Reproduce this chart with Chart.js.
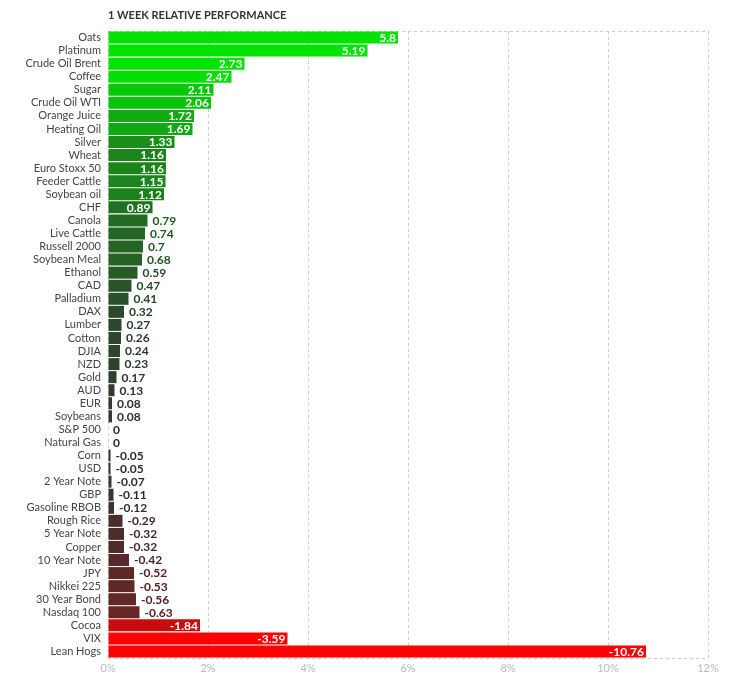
<!DOCTYPE html>
<html>
<head>
<meta charset="utf-8">
<script src="https://cdn.jsdelivr.net/npm/chart.js@4.4.1/dist/chart.umd.min.js"></script>
<style>
  html, body { margin: 0; padding: 0; background: #fff; }
  #wrap { width: 747px; height: 683px; position: relative; }
</style>
</head>
<body>
<div id="wrap"><canvas id="perfChart"></canvas></div>
<script>
// 1 week relative performance, sorted high to low
const names = [
  'Oats', 'Platinum', 'Crude Oil Brent', 'Coffee', 'Sugar', 'Crude Oil WTI',
  'Orange Juice', 'Heating Oil', 'Silver', 'Wheat', 'Euro Stoxx 50', 'Feeder Cattle',
  'Soybean oil', 'CHF', 'Canola', 'Live Cattle', 'Russell 2000', 'Soybean Meal',
  'Ethanol', 'CAD', 'Palladium', 'DAX', 'Lumber', 'Cotton', 'DJIA', 'NZD', 'Gold',
  'AUD', 'EUR', 'Soybeans', 'S&P 500', 'Natural Gas', 'Corn', 'USD', '2 Year Note',
  'GBP', 'Gasoline RBOB', 'Rough Rice', '5 Year Note', 'Copper', '10 Year Note',
  'JPY', 'Nikkei 225', '30 Year Bond', 'Nasdaq 100', 'Cocoa', 'VIX', 'Lean Hogs'
];
const changes = [
  5.8, 5.19, 2.73, 2.47, 2.11, 2.06,
  1.72, 1.69, 1.33, 1.16, 1.16, 1.15,
  1.12, 0.89, 0.79, 0.74, 0.7, 0.68,
  0.59, 0.47, 0.41, 0.32, 0.27, 0.26, 0.24, 0.23, 0.17,
  0.13, 0.08, 0.08, 0, 0, -0.05, -0.05, -0.07,
  -0.11, -0.12, -0.29, -0.32, -0.32, -0.42,
  -0.52, -0.53, -0.56, -0.63, -1.84, -3.59, -10.76
];
const xTicks = [0, 2, 4, 6, 8, 10, 12];

const FONT = 'Lato, "Noto Sans", sans-serif';

// colour fades from dark grey to green / red with size of the move
function shade(v, k) {
  const t = Math.min(Math.abs(v) / 2.5, 1);
  const base = 51;
  let r, g, b;
  if (v >= 0) {
    r = base * (1 - t); g = base + (226 - base) * t; b = r;
  } else {
    r = base + (255 - base) * t; g = base * (1 - t); b = g;
  }
  return `rgb(${Math.round(r * k)}, ${Math.round(g * k)}, ${Math.round(b * k)})`;
}

const colors = changes.map(v => shade(v, 1));
const textColors = changes.map(v => shade(v, 0.85));

// title, frame lines and value labels
const extras = {
  id: 'extras',
  beforeDatasetsDraw(chart) {
    const { ctx, chartArea } = chart;
    ctx.save();
    ctx.strokeStyle = '#cccccc';
    ctx.lineWidth = 1;
    ctx.setLineDash([3, 3]);
    ctx.beginPath();
    ctx.moveTo(chartArea.left, chartArea.top + 0.5);
    ctx.lineTo(chartArea.right, chartArea.top + 0.5);
    ctx.moveTo(chartArea.left, chartArea.bottom + 0.5);
    ctx.lineTo(chartArea.right, chartArea.bottom + 0.5);
    ctx.stroke();
    ctx.restore();
  },
  afterDatasetsDraw(chart) {
    const { ctx, chartArea } = chart;
    ctx.save();
    ctx.font = `bold 11px ${FONT}`;
    ctx.fillStyle = '#333333';
    ctx.textBaseline = 'middle';
    ctx.fillText('1 WEEK RELATIVE PERFORMANCE', chartArea.left, 15);

    const meta = chart.getDatasetMeta(0);
    ctx.font = `bold 12px ${FONT}`;
    meta.data.forEach((bar, i) => {
      const txt = String(changes[i]);
      const barW = bar.x - chartArea.left;
      // only bars wider than ~0.8% carry their label inside
      if (barW > 40) {
        ctx.fillStyle = '#ffffff';
        ctx.textAlign = 'right';
        ctx.fillText(txt, bar.x - 2, bar.y + 0.5);
      } else {
        ctx.fillStyle = textColors[i];
        ctx.textAlign = 'left';
        ctx.fillText(txt, bar.x + 5, bar.y + 0.5);
      }
    });
    ctx.restore();
  }
};

new Chart(document.getElementById('perfChart'), {
  type: 'bar',
  data: {
    labels: names,
    datasets: [{
      data: changes.map(v => Math.abs(v)),
      backgroundColor: colors,
      borderWidth: 0,
      categoryPercentage: 1,
      barPercentage: 0.92
    }]
  },
  options: {
    indexAxis: 'y',
    responsive: true,
    maintainAspectRatio: false,
    animation: false,
    layout: { padding: { top: 31, right: 39, bottom: 0, left: 0 } },
    plugins: {
      legend: { display: false },
      tooltip: { enabled: false }
    },
    scales: {
      x: {
        min: 0,
        max: 12,
        afterBuildTicks: (scale) => { scale.ticks = xTicks.map(v => ({ value: v })); },
        afterFit: (scale) => { scale.height = 25; },
        border: { display: false, dash: [3, 3] },
        grid: {
          color: '#cccccc',
          tickLength: 0,
          drawTicks: false
        },
        ticks: {
          callback: (v) => v + '%',
          color: '#bbbbbb',
          padding: 4,
          font: { family: FONT, size: 11 }
        }
      },
      y: {
        afterFit: (scale) => { scale.width = 108; },
        border: { display: false },
        grid: { display: false, drawTicks: false },
        ticks: {
          color: '#444444',
          padding: 7,
          autoSkip: false,
          font: { family: FONT, size: 11 }
        }
      }
    }
  },
  plugins: [extras]
});
</script>
</body>
</html>
